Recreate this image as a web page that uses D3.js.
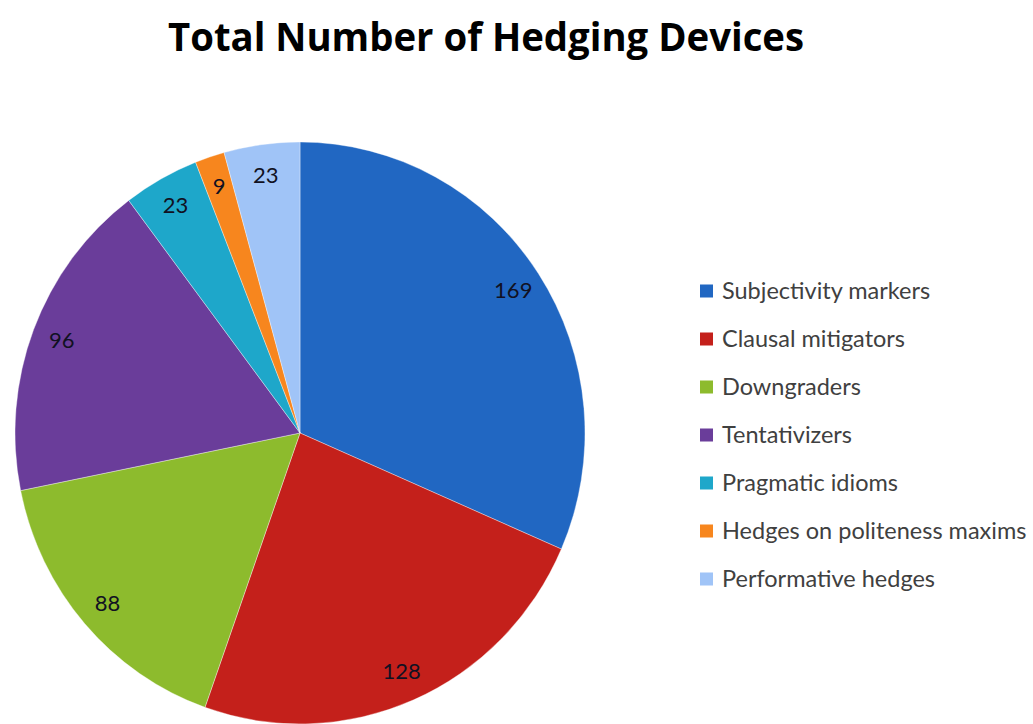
<!DOCTYPE html>
<html>
<head>
<meta charset="utf-8">
<script src="https://cdn.jsdelivr.net/npm/d3@7"></script>
<style>
  html, body { margin: 0; padding: 0; background: #fff; }
  svg { display: block; }
</style>
</head>
<body>
<svg id="chart" width="1033" height="724"></svg>
<script>
const categories = ["Subjectivity markers", "Clausal mitigators", "Downgraders", "Tentativizers", "Pragmatic idioms", "Hedges on politeness maxims", "Performative hedges"];
const values = [169, 128, 88, 96, 23, 9, 23];
const colors = ["#2167C2", "#C4201B", "#8DBB2D", "#6A3D9A", "#1EA7CA", "#F7861E", "#A0C4F7"];
const title = "Total Number of Hedging Devices";

const svg = d3.select("#chart");

// Title
svg.append("text")
  .attr("x", 486).attr("y", 51)
  .attr("text-anchor", "middle")
  .attr("font-family", "'Open Sans', sans-serif")
  .attr("font-weight", 700)
  .attr("font-size", 40)
  .attr("textLength", 636)
  .attr("lengthAdjust", "spacingAndGlyphs")
  .attr("fill", "#000")
  .text(title);

// Pie
const cx = 300, cy = 433, r = 285, sy = 291 / 285;
const data = categories.map((c, i) => ({ name: c, value: values[i], color: colors[i] }));
const pie = d3.pie().value(d => d.value).sort(null);
const arcs = pie(data);
const arc = d3.arc().innerRadius(0).outerRadius(r);
const labelArc = d3.arc().innerRadius(255).outerRadius(255);

const g = svg.append("g").attr("transform", `translate(${cx},${cy}) scale(1,${sy})`);
g.selectAll("path").data(arcs).join("path")
  .attr("d", arc)
  .attr("fill", d => d.data.color)
  .attr("stroke", "#ffffff")
  .attr("stroke-width", 0.6)
  .attr("stroke-opacity", 0.6);

svg.append("g").attr("transform", `translate(${cx},${cy})`)
  .selectAll("text").data(arcs).join("text")
  .attr("x", d => labelArc.centroid(d)[0])
  .attr("y", d => labelArc.centroid(d)[1] * sy)
  .attr("dy", "0.35em")
  .attr("text-anchor", "middle")
  .attr("font-family", "Lato, 'Open Sans', sans-serif")
  .attr("font-size", 22)
  .attr("fill", "#111122")
  .text(d => d.data.value);

// Legend
const legend = svg.append("g").attr("transform", "translate(700,291)");
const rowStep = 48;
const rows = legend.selectAll("g").data(data).join("g")
  .attr("transform", (d, i) => `translate(0,${i * rowStep})`);
rows.append("rect")
  .attr("x", 0).attr("y", -6.5).attr("width", 13).attr("height", 13)
  .attr("fill", d => d.color);
rows.append("text")
  .attr("x", 22).attr("y", 0).attr("dy", "0.35em")
  .attr("font-family", "Lato, 'Open Sans', sans-serif")
  .attr("font-size", 23.5)
  .attr("fill", "#404040")
  .text(d => d.name);
</script>
</body>
</html>
